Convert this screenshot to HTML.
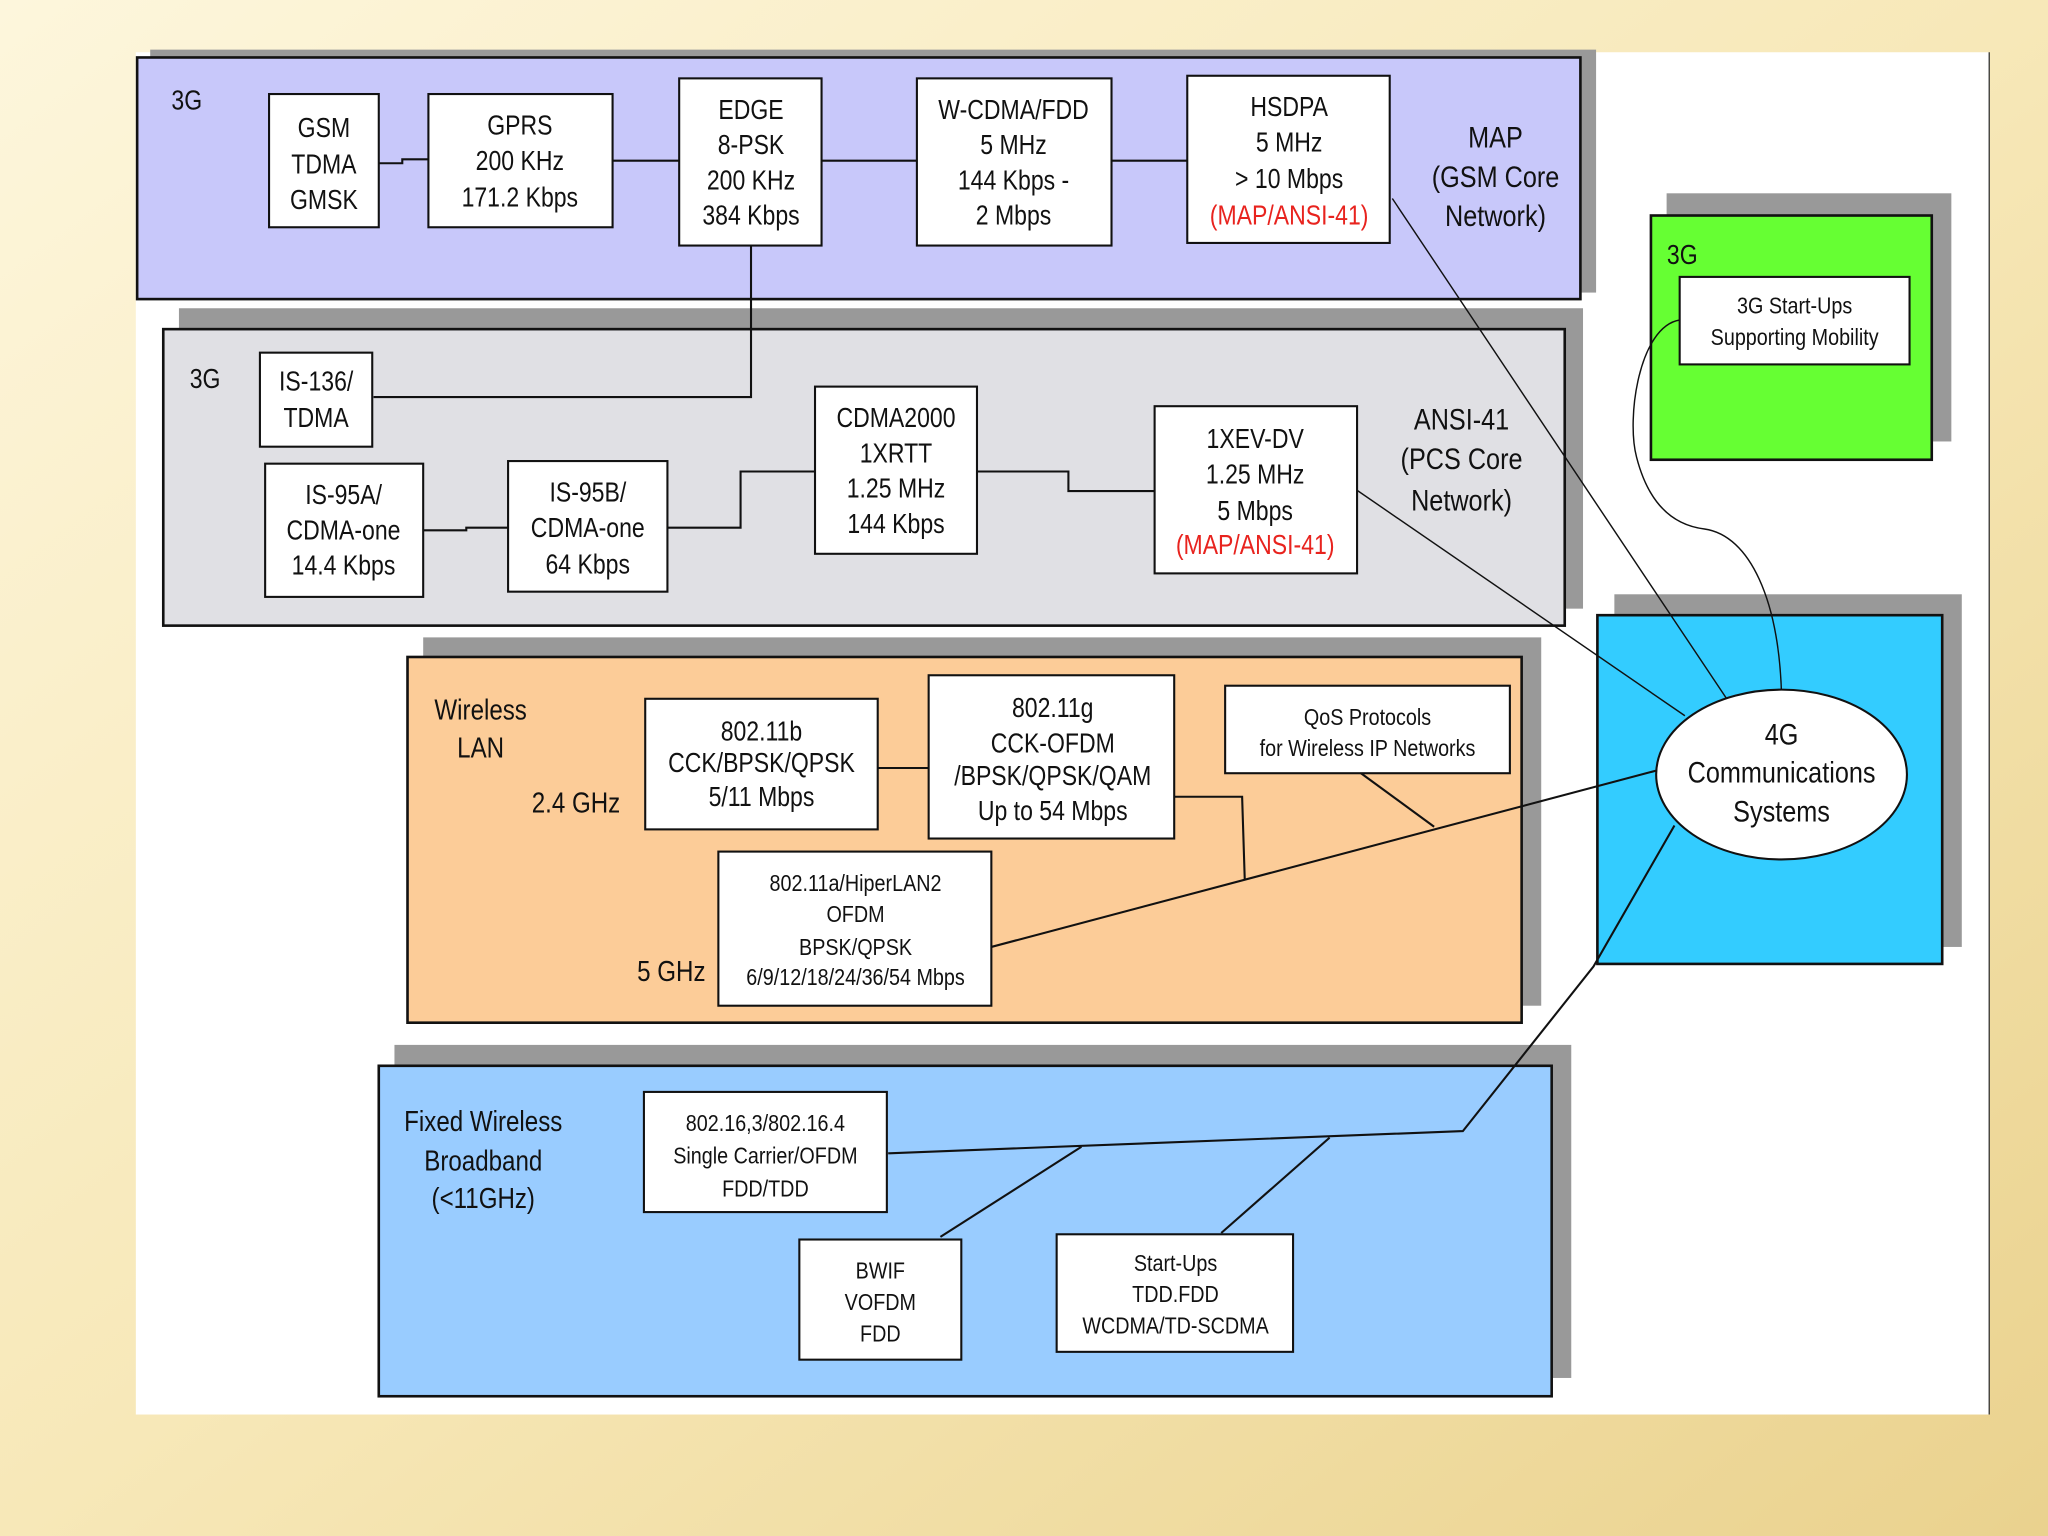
<!DOCTYPE html>
<html><head><meta charset="utf-8"><style>
html,body{margin:0;padding:0;}
body{width:2048px;height:1536px;overflow:hidden;background:#f5e6b4;}
svg{display:block;}
text{font-family:"Liberation Sans Narrow","Liberation Sans",sans-serif;fill:#111;transform-box:fill-box;transform-origin:center;transform:scaleX(0.84);}
</style></head><body>
<svg width="2048" height="1536" viewBox="0 0 1568 1176" preserveAspectRatio="none">
<defs>
<linearGradient id="bg" x1="0" y1="0" x2="1" y2="1">
<stop offset="0" stop-color="#fdf6dc"/><stop offset="0.5" stop-color="#f7e8b8"/><stop offset="1" stop-color="#ead28e"/>
</linearGradient>
</defs>
<rect x="0" y="0" width="1568" height="1176" fill="url(#bg)"/>
<rect x="104" y="40" width="1419" height="1043" fill="#fff"/>
<line x1="1523" y1="40" x2="1523" y2="1083" stroke="#333" stroke-width="1"/>

<g stroke="none" fill="#999">
<rect x="115" y="38" width="1107" height="186"/>
<rect x="137" y="236" width="1075" height="230"/>
<rect x="324" y="488" width="856" height="282"/>
<rect x="302" y="800" width="901" height="255"/>
<rect x="1276" y="148" width="218" height="190"/>
<rect x="1236" y="455" width="266" height="270"/>
</g>
<g stroke="#111" stroke-width="2">
<rect x="105" y="44" width="1105" height="185" fill="#c8c8fa"/>
<rect x="125" y="252" width="1073" height="227" fill="#e0e0e4"/>
<rect x="312" y="503" width="853" height="280" fill="#fccc98"/>
<rect x="290" y="816" width="898" height="253" fill="#99ccff"/>
<rect x="1264" y="165" width="215" height="187" fill="#66ff33"/>
<rect x="1223" y="471" width="264" height="267" fill="#33ccff"/>
</g>

<g stroke="#111" stroke-width="1.6" fill="none">
<polyline points="290,125 308,125 308,122 328,122"/>
<line x1="469" y1="123" x2="520" y2="123"/>
<line x1="629" y1="123" x2="702" y2="123"/>
<line x1="851" y1="123" x2="909" y2="123"/>
<polyline points="575,188 575,304 286,304"/>
<polyline points="324,406 357,406 357,404 389,404"/>
<polyline points="511,404 567,404 567,361 624,361"/>
<polyline points="748,361 818,361 818,376 884,376"/>
<line x1="672" y1="588" x2="711" y2="588"/>
<polyline points="899,610 951,610 953,673"/>
<line x1="759" y1="725" x2="1268" y2="590"/>
<line x1="1042" y1="592" x2="1098" y2="633"/>
<polyline points="1282,632 1220,740 1120,866 680,883"/>
<line x1="828" y1="878" x2="720" y2="947"/>
<line x1="1018" y1="871" x2="935" y2="944"/>
</g>
<g stroke="#111" stroke-width="1.1" fill="none">
<line x1="1066" y1="152" x2="1322" y2="535"/>
<line x1="1037" y1="374" x2="1290" y2="548"/>
<path d="M1286,245 C1255,250 1245,320 1253,350 C1262,385 1280,402 1305,405 C1340,410 1362,460 1364,532"/>
</g>

<g stroke="#111" stroke-width="1.6" fill="#fff">
<rect x="206" y="72" width="84" height="102"/>
<rect x="328" y="72" width="141" height="102"/>
<rect x="520" y="60" width="109" height="128"/>
<rect x="702" y="60" width="149" height="128"/>
<rect x="909" y="58" width="155" height="128"/>
<rect x="199" y="270" width="86" height="72"/>
<rect x="203" y="355" width="121" height="102"/>
<rect x="389" y="353" width="122" height="100"/>
<rect x="624" y="296" width="124" height="128"/>
<rect x="884" y="311" width="155" height="128"/>
<rect x="1286" y="212" width="176" height="67"/>
<rect x="494" y="535" width="178" height="100"/>
<rect x="711" y="517" width="188" height="125"/>
<rect x="938" y="525" width="218" height="67"/>
<rect x="550" y="652" width="209" height="118"/>
<rect x="493" y="836" width="186" height="92"/>
<rect x="612" y="949" width="124" height="92"/>
<rect x="809" y="945" width="181" height="90"/>
<ellipse cx="1364" cy="593" rx="96" ry="65"/>
</g>

<g font-size="21" text-anchor="middle">
<text x="143" y="84">3G</text>
<text x="248" y="105">GSM</text><text x="248" y="133">TDMA</text><text x="248" y="160">GMSK</text>
<text x="398" y="103">GPRS</text><text x="398" y="130">200 KHz</text><text x="398" y="158">171.2 Kbps</text>
<text x="575" y="91">EDGE</text><text x="575" y="118">8-PSK</text><text x="575" y="145">200 KHz</text><text x="575" y="172">384 Kbps</text>
<text x="776" y="91">W-CDMA/FDD</text><text x="776" y="118">5 MHz</text><text x="776" y="145">144 Kbps -</text><text x="776" y="172">2 Mbps</text>
<text x="987" y="89">HSDPA</text><text x="987" y="116">5 MHz</text><text x="987" y="144">&gt; 10 Mbps</text><text x="987" y="172" style="fill:#e8231e">(MAP/ANSI-41)</text>
<text x="1145" y="113" font-size="23">MAP</text><text x="1145" y="143" font-size="23">(GSM Core</text><text x="1145" y="173" font-size="23">Network)</text>
<text x="157" y="297">3G</text>
<text x="242" y="299">IS-136/</text><text x="242" y="327">TDMA</text>
<text x="263" y="386">IS-95A/</text><text x="263" y="413">CDMA-one</text><text x="263" y="440">14.4 Kbps</text>
<text x="450" y="384">IS-95B/</text><text x="450" y="411">CDMA-one</text><text x="450" y="439">64 Kbps</text>
<text x="686" y="327">CDMA2000</text><text x="686" y="354">1XRTT</text><text x="686" y="381">1.25 MHz</text><text x="686" y="408">144 Kbps</text>
<text x="961" y="343">1XEV-DV</text><text x="961" y="370">1.25 MHz</text><text x="961" y="398">5 Mbps</text><text x="961" y="424" style="fill:#e8231e">(MAP/ANSI-41)</text>
<text x="1119" y="329" font-size="23">ANSI-41</text><text x="1119" y="359" font-size="23">(PCS Core</text><text x="1119" y="391" font-size="23">Network)</text>
<text x="1288" y="202">3G</text>
<text x="1374" y="240" font-size="18">3G Start-Ups</text><text x="1374" y="264" font-size="18">Supporting Mobility</text>
<text x="368" y="551" font-size="22">Wireless</text><text x="368" y="580" font-size="22">LAN</text>
<text x="441" y="622" font-size="22">2.4 GHz</text>
<text x="514" y="751" font-size="22">5 GHz</text>
<text x="583" y="567">802.11b</text><text x="583" y="591">CCK/BPSK/QPSK</text><text x="583" y="617">5/11 Mbps</text>
<text x="806" y="549">802.11g</text><text x="806" y="576">CCK-OFDM</text><text x="806" y="601">/BPSK/QPSK/QAM</text><text x="806" y="628">Up to 54 Mbps</text>
<text x="1047" y="555" font-size="18">QoS Protocols</text><text x="1047" y="579" font-size="18">for Wireless IP Networks</text>
<text x="655" y="682" font-size="18">802.11a/HiperLAN2</text><text x="655" y="706" font-size="18">OFDM</text><text x="655" y="731" font-size="18">BPSK/QPSK</text><text x="655" y="754" font-size="18">6/9/12/18/24/36/54 Mbps</text>
<text x="1364" y="570" font-size="23">4G</text><text x="1364" y="599" font-size="23">Communications</text><text x="1364" y="629" font-size="23">Systems</text>
<text x="370" y="866" font-size="22">Fixed Wireless</text><text x="370" y="896" font-size="22">Broadband</text><text x="370" y="925" font-size="22">(&lt;11GHz)</text>
<text x="586" y="866" font-size="18">802.16,3/802.16.4</text><text x="586" y="891" font-size="18">Single Carrier/OFDM</text><text x="586" y="916" font-size="18">FDD/TDD</text>
<text x="674" y="979" font-size="18">BWIF</text><text x="674" y="1003" font-size="18">VOFDM</text><text x="674" y="1027" font-size="18">FDD</text>
<text x="900" y="973" font-size="18">Start-Ups</text><text x="900" y="997" font-size="18">TDD.FDD</text><text x="900" y="1021" font-size="18">WCDMA/TD-SCDMA</text>
</g>
</svg>
</body></html>
